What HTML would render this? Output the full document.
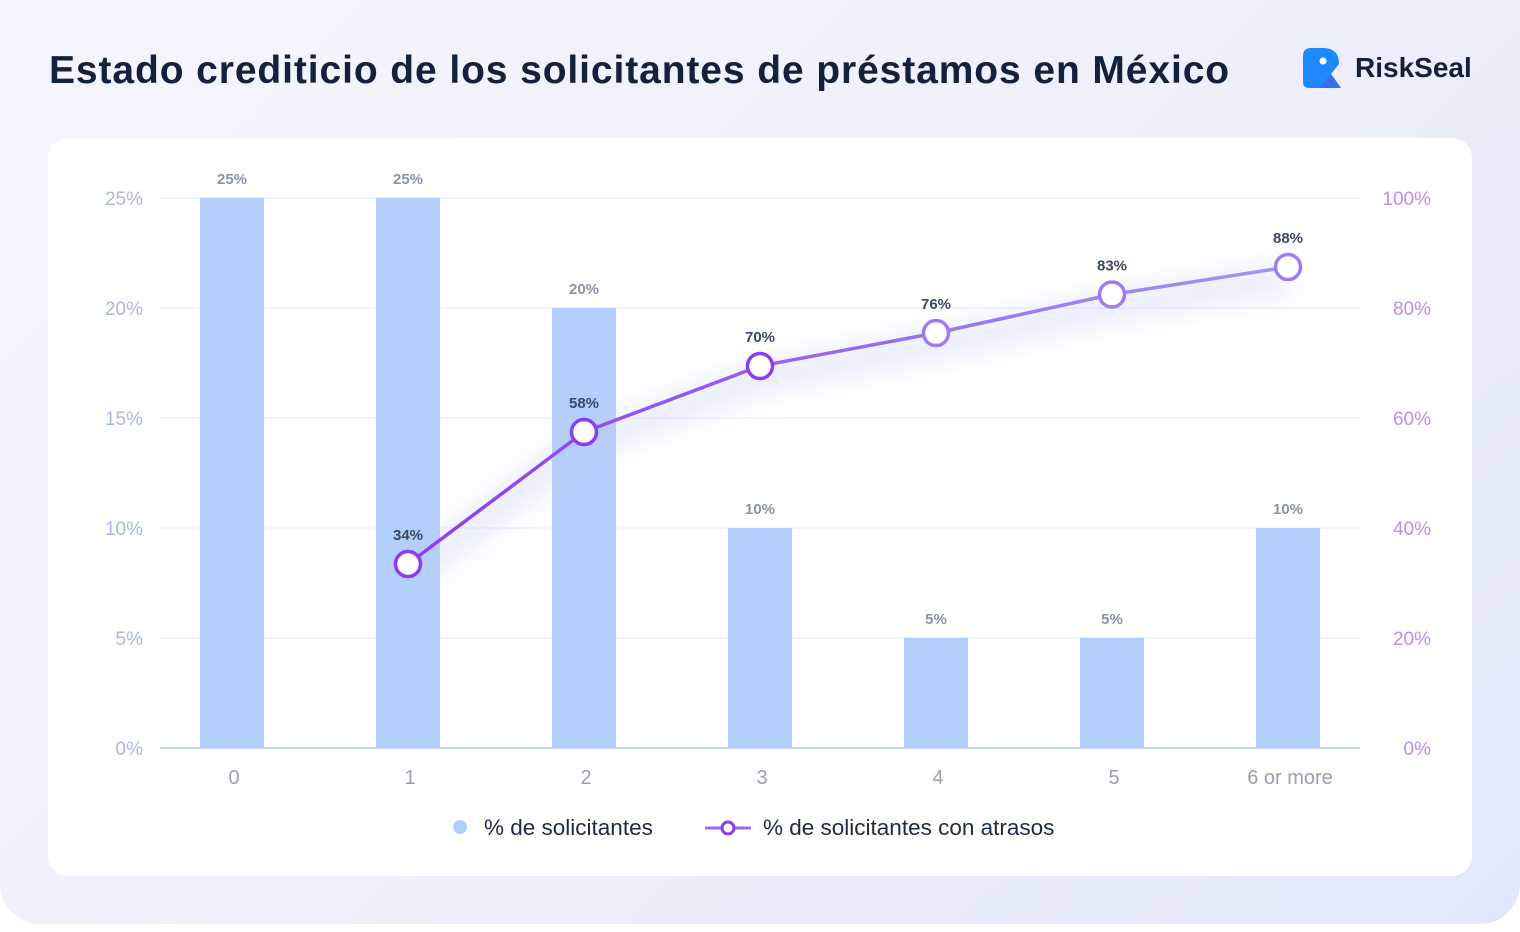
<!DOCTYPE html>
<html><head><meta charset="utf-8"><style>
body{margin:0;width:1520px;height:932px;overflow:hidden;background:#fff;font-family:"Liberation Sans",sans-serif}
.bg{position:absolute;left:0;top:0;width:1520px;height:924px;border-radius:0 0 40px 40px;background:linear-gradient(135deg,#f6f5fd 0%,#eef0fb 50%,#e2e8fb 100%)}
.title{position:absolute;left:49px;top:49px;font-size:39px;font-weight:bold;color:#14213d;letter-spacing:0.9px}
.card{position:absolute;left:48px;top:138px;width:1424px;height:738px;background:#fff;border-radius:20px}
</style></head><body>
<div class="bg"></div>
<div class="title">Estado crediticio de los solicitantes de préstamos en México</div>
<div style="position:absolute;left:1303px;top:48px;">
<svg width="40" height="40" viewBox="0 0 40 40"><path d="M0 8 Q0 0 8 0 H20 Q36 0 36 16 L28 26 L38 40 H6 Q0 40 0 34Z" fill="#1e88ff"/><path d="M16 40 L28 26 L38 40Z" fill="#3a6cf0"/><circle cx="20" cy="13" r="3.5" fill="#fff"/></svg>
<span style="position:absolute;left:52px;top:4px;font-size:28px;font-weight:bold;color:#14213d;white-space:nowrap">RiskSeal</span></div>
<div class="card"></div>
<svg id="chart" width="1520" height="932" style="position:absolute;left:0;top:0">
<defs><linearGradient id="lg" x1="0" x2="1"><stop offset="0" stop-color="#8d3cf0"/><stop offset="1" stop-color="#a296f4"/></linearGradient>
<filter id="blur"><feGaussianBlur stdDeviation="14"/></filter></defs>
</svg>
<div style="position:absolute;top:815px;left:0;width:1520px;font-size:22.5px;color:#1d2a44">
<span style="position:absolute;left:453px;top:0;white-space:nowrap"><span style="display:inline-block;width:14px;height:14px;border-radius:7px;background:#b3cffb;margin-right:17px;vertical-align:1px"></span>% de solicitantes</span>
<span style="position:absolute;left:705px;top:0;white-space:nowrap"><svg width="46" height="16" style="vertical-align:-1px;margin-right:12px"><rect x="0" y="6.5" width="46" height="3" fill="#9a6cf3"/><circle cx="23" cy="8" r="6" fill="#fff" stroke="#8d3cf0" stroke-width="3"/></svg>% de solicitantes con atrasos</span>
</div>
<script>
const categories=["0","1","2","3","4","5","6 or more"];
const barValues=[25,25,20,10,5,5,10];
const lineValues=[null,34,58,70,76,83,88];
const leftTicks=[0,5,10,15,20,25];
const rightTicks=[0,20,40,60,80,100];
const svg=document.getElementById('chart');const NS='http://www.w3.org/2000/svg';
const x0=160,x1=1360,y0=748,yTop=198;
const xc=i=>232+i*176;
const yL=v=>y0-(v/25)*(y0-yTop);
const yR=v=>y0-(v/100)*(y0-yTop)+3;
function mk(t,a,txt){const e=document.createElementNS(NS,t);for(const k in a)e.setAttribute(k,a[k]);if(txt!=null)e.textContent=txt;svg.appendChild(e);return e;}
leftTicks.forEach((t,i)=>{const g=mk('line',{x1:x0,x2:x1,y1:yL(t),y2:yL(t),stroke:i==0?'#c9d6f2':'#eef1f8','stroke-width':i==0?2:1.5});


const l=mk('text',{x:143,y:yL(t)+7,'text-anchor':'end','font-size':19,fill:'#a8b8e0'},t+'%');

});
rightTicks.forEach(t=>{const l=mk('text',{x:1431,y:y0-(t/100)*(y0-yTop)+7,'text-anchor':'end','font-size':19,fill:'#c08cf0'},t+'%');

});
barValues.forEach((v,i)=>{const r=mk('rect',{x:xc(i)-32,y:yL(v),width:64,height:y0-yL(v),fill:'#b3cffb'});


const l=mk('text',{x:xc(i),y:yL(v)-14,'text-anchor':'middle','font-size':15,'font-weight':'bold',fill:'#8a93a8'},v+'%');


const c=mk('text',{x:xc(i)+2,y:784,'text-anchor':'middle','font-size':20,fill:'#9aa0ad'},categories[i]);

});
const pts=[];lineValues.forEach((v,i)=>{if(v!=null)pts.push([xc(i),yR(v),v]);});
const sh=mk('polyline',{points:pts.map(p=>p[0]+','+(p[1]+12)).join(' '),fill:'none',stroke:'#c2cdf7','stroke-width':22,opacity:0.5,filter:'url(#blur)'});


const pl=mk('polyline',{points:pts.map(p=>p[0]+','+p[1]).join(' '),fill:'none',stroke:'url(#lg)','stroke-width':3.5});


pts.forEach((p,i)=>{const c=mk('circle',{cx:p[0],cy:p[1],r:12.5,fill:'#fff',stroke:i<3?'#8d3cf0':'#9f7cf4','stroke-width':3.5});


const l=mk('text',{x:p[0],y:p[1]-24,'text-anchor':'middle','font-size':15,'font-weight':'bold',fill:'#3b4866'},p[2]+'%');

});
</script>
</body></html>
